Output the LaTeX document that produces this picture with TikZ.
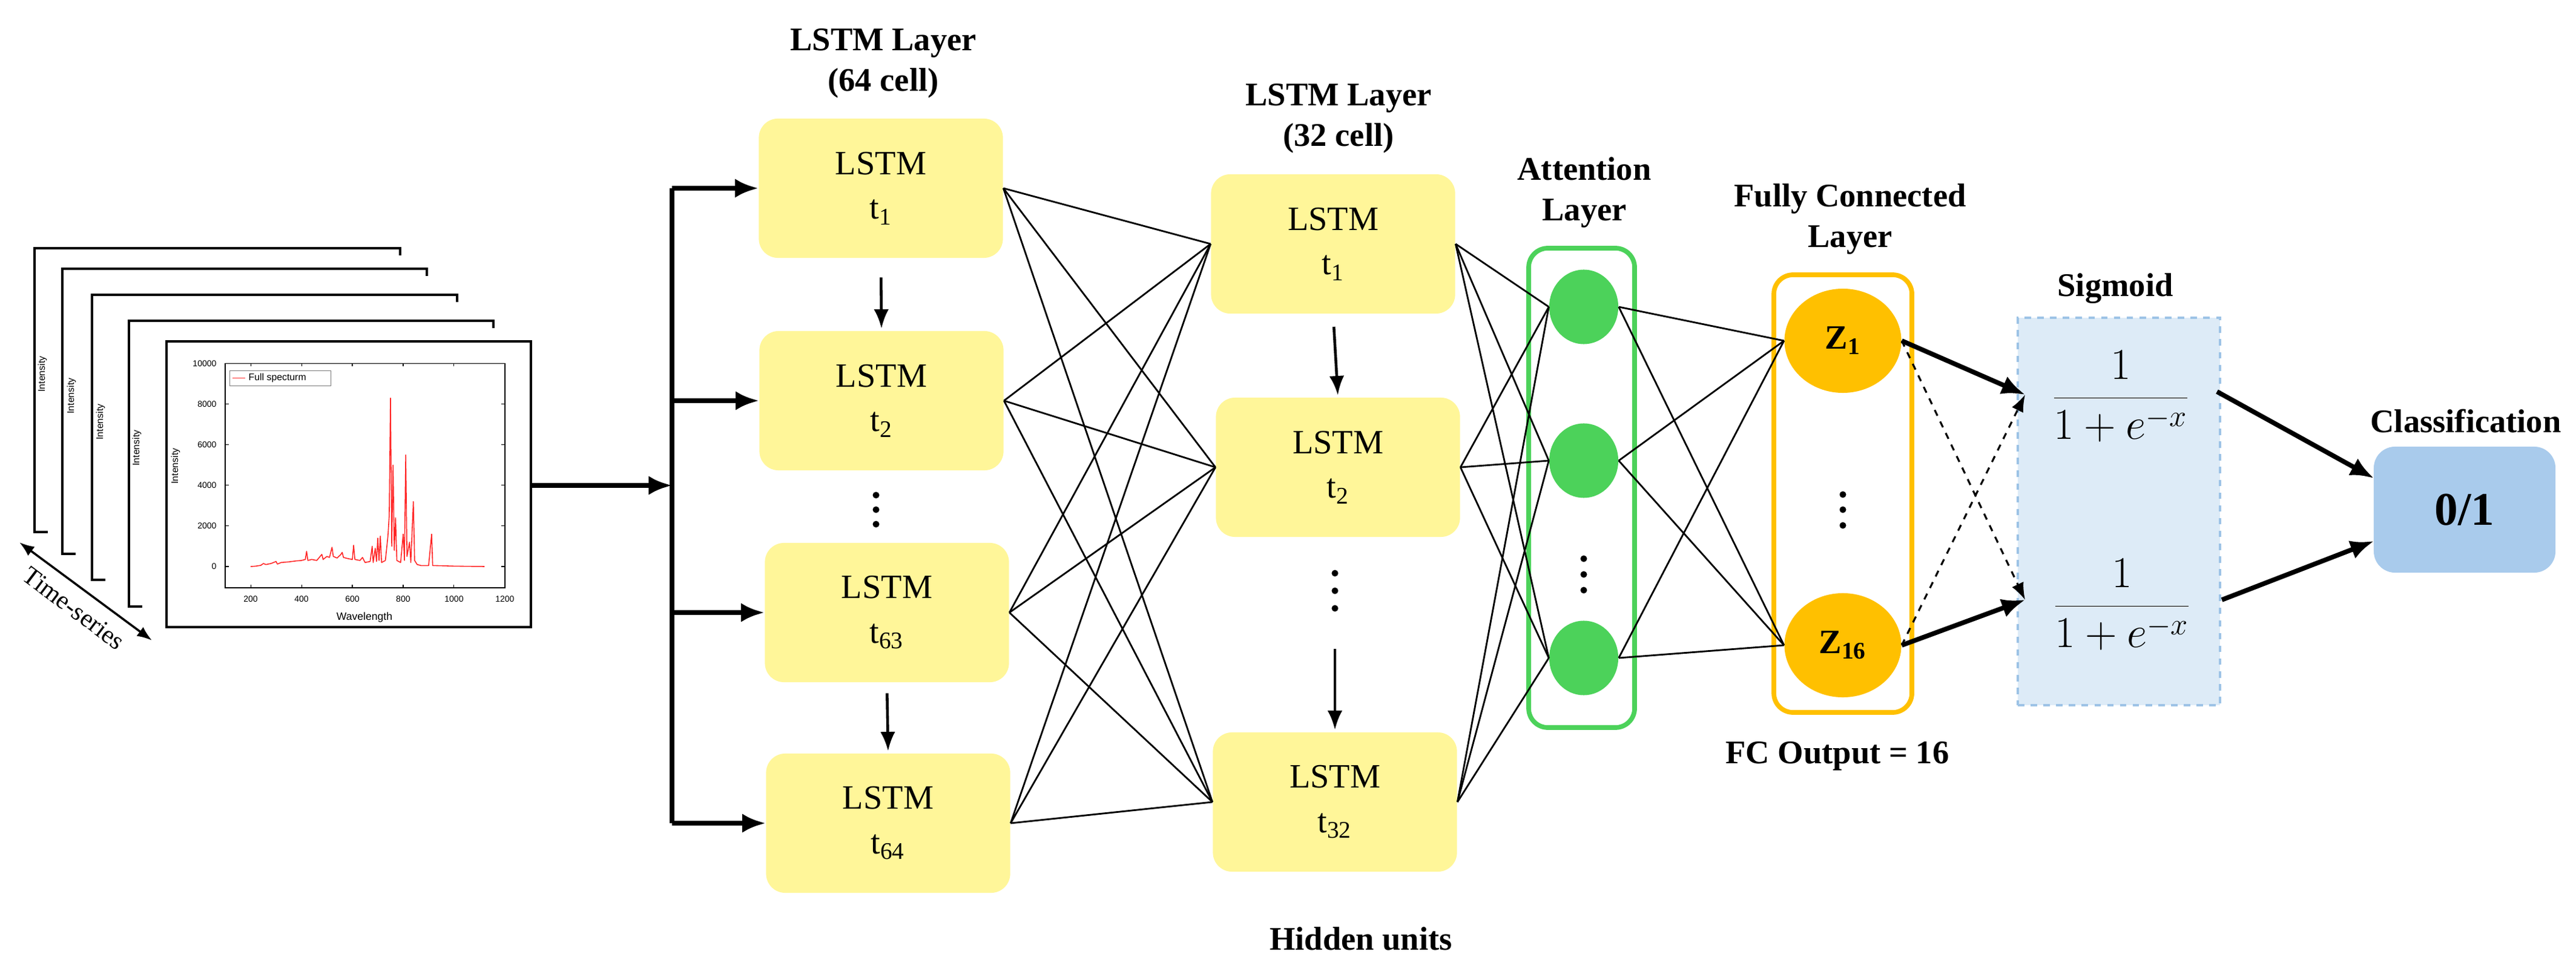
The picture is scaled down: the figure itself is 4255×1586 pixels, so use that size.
\documentclass[tikz,border=0pt]{standalone}
\usepackage{fontspec}
\setmainfont{Liberation Serif}[BoldFont={Liberation Serif Bold}]
\newfontfamily\plotfont{Liberation Sans}
\usetikzlibrary{arrows.meta,shapes.geometric}
\definecolor{lstmY}{RGB}{255,246,153}
\definecolor{attG}{RGB}{76,210,90}
\definecolor{fcO}{RGB}{255,192,0}
\definecolor{sigF}{RGB}{221,235,247}
\definecolor{sigB}{RGB}{157,195,230}
\definecolor{clsF}{RGB}{169,203,236}
\begin{document}
\begin{tikzpicture}[x=0.01cm,y=-0.01cm,
  lstm/.style={fill=lstmY,rounded corners=9pt,minimum width=4.03cm,minimum height=2.3cm,inner sep=0pt,align=center,font=\fontsize{16}{21}\selectfont},
  title/.style={align=center,font=\fontsize{15.5}{19}\bfseries\selectfont},
  conn/.style={line width=0.8pt},
  thickarr/.style={line width=2.2pt,-{Latex[length=11pt,width=9pt]}},
  thinarr/.style={line width=1.3pt,-{Latex[length=9pt,width=7pt]}},
  att/.style={ellipse,fill=attG,minimum width=1.14cm,minimum height=1.23cm,inner sep=0pt},
  zz/.style={ellipse,fill=fcO,minimum width=1.93cm,minimum height=1.72cm,inner sep=0pt,font=\fontsize{16}{18}\bfseries\selectfont},
  frm/.style={line width=1pt},
  ilab/.style={rotate=90,font=\plotfont\fontsize{4.5}{5}\selectfont}]
\useasboundingbox (0,0) rectangle (4255,1586);

% ---- stacked frames ----
\draw[frm] (79,879) -- (57,879) -- (57,410) -- (661,410) -- (661,422);
\draw[frm] (125,915) -- (103,915) -- (103,444) -- (705,444) -- (705,456);
\draw[frm] (174,958) -- (152,958) -- (152,487) -- (755,487) -- (755,499);
\draw[frm] (235,1002) -- (213,1002) -- (213,530) -- (815,530) -- (815,542);
\node[ilab] at (70,618) {Intensity};
\node[ilab] at (118,654) {Intensity};
\node[ilab] at (166,697) {Intensity};
\node[ilab] at (226,740) {Intensity};
\node[draw,line width=1pt,fill=white,minimum width=6.02cm,minimum height=4.72cm,inner sep=0pt] (front) at (576,800) {};
\node[ilab] at (290,770) {Intensity};
\node[font=\plotfont\fontsize{5}{6}\selectfont] at (602,1020) {Wavelength};
\begin{scope}[shift={(330.1,936)},x=0.00419cm,y=0.000336cm]
  \draw[line width=0.4pt] (100,-1042) rectangle (1200,10000);
  \foreach \w in {200,400,...,1200}{
    \draw[line width=0.3pt] (\w,-1042) -- (\w,-900);
    \draw[line width=0.3pt] (\w,10000) -- (\w,9860);
    \node[font=\plotfont\fontsize{4}{5}\selectfont,below] at (\w,-1080) {\w};}
  \foreach \v in {0,2000,...,10000}{
    \draw[line width=0.3pt] (100,\v) -- (115,\v);
    \draw[line width=0.3pt] (1200,\v) -- (1185,\v);
    \node[font=\plotfont\fontsize{4}{5}\selectfont,left] at (95,\v) {\v};}
  \draw[line width=0.3pt,gray] (118,8900) rectangle (515,9650);
  \draw[red!80,line width=0.4pt] (128,9280) -- (178,9280);
  \node[font=\plotfont\fontsize{4.5}{5}\selectfont,right,inner sep=1pt] at (182,9280) {Full specturm};
  \draw[red!85,line width=0.45pt,line join=round] (200,0)--(220,20)--(240,60)--(250,150)--(260,100)--(280,150)--(300,250)--(305,120)--(320,200)--(350,230)--(380,280)--(400,300)--(415,350)--(420,750)--(425,300)--(440,350)--(460,300)--(480,600)--(485,350)--(500,500)--(510,450)--(520,950)--(525,500)--(540,420)--(555,600)--(560,700)--(565,450)--(580,400)--(600,350)--(605,1050)--(610,350)--(630,300)--(640,450)--(650,200)--(670,250)--(678,1000)--(682,200)--(690,900)--(695,250)--(700,1400)--(705,300)--(710,1500)--(715,200)--(730,300)--(740,1500)--(745,2500)--(750,8300)--(755,1000)--(760,5000)--(765,800)--(770,2400)--(775,300)--(790,200)--(800,1600)--(805,300)--(810,5500)--(815,500)--(825,1200)--(830,200)--(840,3200)--(845,300)--(855,100)--(870,50)--(900,50)--(912,1600)--(916,50)--(950,40)--(1000,20)--(1120,0);
\end{scope}
\coordinate (ts1) at (32,896);
\coordinate (ts2) at (251,1058);
\draw[line width=1pt,{Latex[length=7pt]}-{Latex[length=7pt]}] (ts1) -- (ts2);
\node[rotate=-37,font=\fontsize{12}{14}\selectfont] at (122,1005) {Time-series};

% ---- LSTM layer 1 ----
\node[title] at (1459,105) {LSTM Layer\\(64 cell)};
\node[lstm] (a1) at (1455,311) {LSTM\\t\textsubscript{1}};
\node[lstm] (a2) at (1456,662) {LSTM\\t\textsubscript{2}};
\node[lstm] (a3) at (1465,1012) {LSTM\\t\textsubscript{63}};
\node[lstm] (a4) at (1467,1360) {LSTM\\t\textsubscript{64}};
\foreach \yy in {818,842,866} \fill (1447,\yy) circle[radius=0.055cm];
\draw[thinarr,shorten <=9pt,shorten >=1pt] (a1.south) -- (a2.north);
\draw[thinarr,shorten <=5pt,shorten >=1pt] (a3.south) -- (a4.north);
\coordinate (br) at (1110,802);
\draw[line width=2.2pt] (br |- a1.west) -- (br |- a4.west);
\draw[thickarr] (front.east |- br) -- (br);
\foreach \n in {a1,a2,a3,a4} \draw[thickarr] (br |- \n.west) -- (\n.west);

% ---- LSTM layer 2 ----
\node[title] at (2211,196) {LSTM Layer\\(32 cell)};
\node[lstm] (b1) at (2202,403) {LSTM\\t\textsubscript{1}};
\node[lstm] (b2) at (2210,772) {LSTM\\t\textsubscript{2}};
\node[lstm] (b3) at (2205,1325) {LSTM\\t\textsubscript{32}};
\foreach \yy in {947,976,1005} \fill (2205,\yy) circle[radius=0.055cm];
\draw[thinarr,shorten <=6pt,shorten >=1pt] (b1.south) -- (b2.north);
\coordinate (b3top) at (2205,1072);
\draw[thinarr,shorten >=1pt] (b3top) -- (b3.north);
\foreach \s in {a1,a2,a3,a4} \foreach \t in {b1,b2,b3} \draw[conn] (\s.east) -- (\t.west);

% ---- attention ----
\node[title] at (2617,318) {Attention\\Layer};
\draw[attG,line width=2.2pt,rounded corners=9pt] (2525,410) rectangle (2700,1202);
\node[att] (c1) at (2616,507) {};
\node[att] (c2) at (2616,761) {};
\node[att] (c3) at (2616,1087) {};
\foreach \yy in {923,949,975} \fill (2616,\yy) circle[radius=0.055cm];
\foreach \s in {b1,b2,b3} \foreach \t in {c1,c2,c3} \draw[conn] (\s.east) -- (\t.west);

% ---- fully connected ----
\node[title] at (3056,362) {Fully Connected\\Layer};
\draw[fcO,line width=2.2pt,rounded corners=9pt] (2930,454) rectangle (3158,1177);
\node[zz] (z1) at (3044,563) {Z\textsubscript{1}};
\node[zz] (z2) at (3044,1066) {Z\textsubscript{16}};
\foreach \yy in {817,842,868} \fill (3044,\yy) circle[radius=0.055cm];
\foreach \s in {c1,c2,c3} \foreach \t in {z1,z2} \draw[conn] (\s.east) -- (\t.west);
\node[title] at (3035,1249) {FC Output = 16};

% ---- sigmoid ----
\node[title] at (3494,477) {Sigmoid};
\node[draw=sigB,fill=sigF,dashed,line width=1.3pt,minimum width=3.34cm,minimum height=6.4cm,inner sep=0pt] (sig) at (3500,845) {};
\node[font=\fontsize{22}{26}\selectfont] (f1) at (3503,655) {$\displaystyle\frac{1}{1+e^{-x}}$};
\node[font=\fontsize{22}{26}\selectfont] (f2) at (3505,999) {$\displaystyle\frac{1}{1+e^{-x}}$};
\coordinate (s1) at (3345,652);
\coordinate (s2) at (3345,991);
\draw[thickarr] (z1.east) -- (s1);
\draw[thickarr] (z2.east) -- (s2);
\draw[line width=0.9pt,dashed,-{Latex[length=8pt,width=6pt]}] (z1.east) -- (s2);
\draw[line width=0.9pt,dashed,-{Latex[length=8pt,width=6pt]}] (z2.east) -- (s1);

% ---- classification ----
\node[title] at (4073,696) {Classification};
\node[fill=clsF,rounded corners=10pt,minimum width=3.0cm,minimum height=2.08cm,inner sep=0pt,font=\fontsize{22}{26}\bfseries\selectfont] (cls) at (4071,842) {0/1};
\coordinate (o1) at (3662,647);
\coordinate (o2) at (3670,991);
\coordinate (k1) at (3921,790);
\coordinate (k2) at (3921,894);
\draw[thickarr] (o1) -- (k1);
\draw[thickarr] (o2) -- (k2);

\node[title] at (2248,1551) {Hidden units};
\end{tikzpicture}
\end{document}
